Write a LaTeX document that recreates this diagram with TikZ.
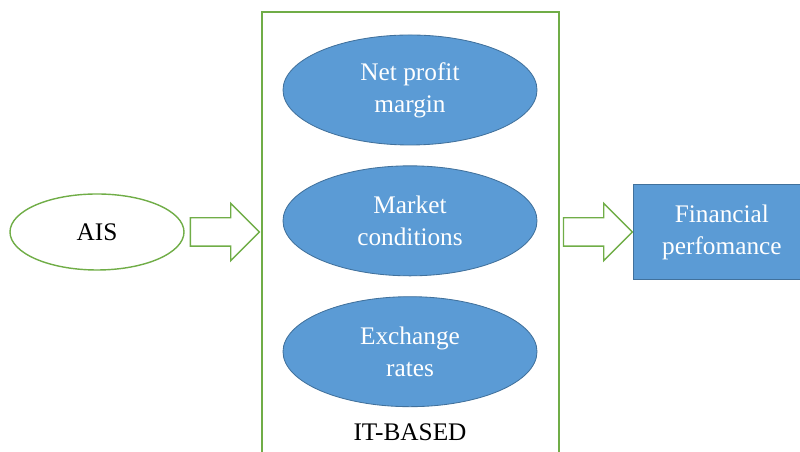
\documentclass[tikz,border=0pt]{standalone}
\usepackage{fontspec}
\setmainfont{Liberation Serif}
\usepackage{tikz}
\usetikzlibrary{arrows.meta, positioning, shapes.geometric, shapes.arrows, calc}
\definecolor{blockblue}{HTML}{5B9BD5}
\definecolor{blockedge}{HTML}{41719C}
\definecolor{leafgreen}{HTML}{70AD47}

\begin{document}
\begin{tikzpicture}[
  node distance=0.5cm,
  every node/.style={font=\fontsize{18}{22.7}\selectfont, align=center},
  factor/.style={ellipse, draw=blockedge, fill=blockblue, text=white,
    line width=0.6pt, inner sep=0pt, minimum width=6.35cm, minimum height=2.75cm},
  source/.style={ellipse, draw=leafgreen, line width=1pt, inner sep=0pt,
    minimum width=4.35cm, minimum height=1.9cm},
  outcome/.style={rectangle, draw=blockedge, fill=blockblue, text=white,
    line width=0.6pt, minimum width=4.4cm, minimum height=2.375cm},
  frame/.style={rectangle, draw=leafgreen, line width=1.1pt},
  blockarrow/.style={single arrow, draw=leafgreen, line width=1pt,
    inner xsep=0pt, inner ysep=0.3375cm, minimum height=1.725cm,
    single arrow head extend=0.3625cm}
]
  \clip (0,0) rectangle (20,11.3);

  % container for the IT-based factors
  \node[frame, minimum width=7.425cm, minimum height=11.5cm, anchor=north] (itbox) at (10.2625,11.025) {};
  \node (itlabel) at (10.25,0.5) {IT-BASED};

  \node[factor] (profit) at (10.25,9.05) {Net profit\\margin};
  \node[factor, below=of profit] (market) {Market\\conditions};
  \node[factor, below=of market] (exchange) {Exchange\\rates};

  \node[source] (ais) at (2.425,5.5) {AIS};
  \node[blockarrow, anchor=tail] (toit) at ($(ais.east)+(0.125,0)$) {};

  \node[blockarrow, anchor=tail] (fromit) at ($(itbox.east |- toit.tail)+(0.075,0)$) {};
  \node[outcome, anchor=west] (perf) at (fromit.tip) {Financial\\perfomance};
\end{tikzpicture}
\end{document}
